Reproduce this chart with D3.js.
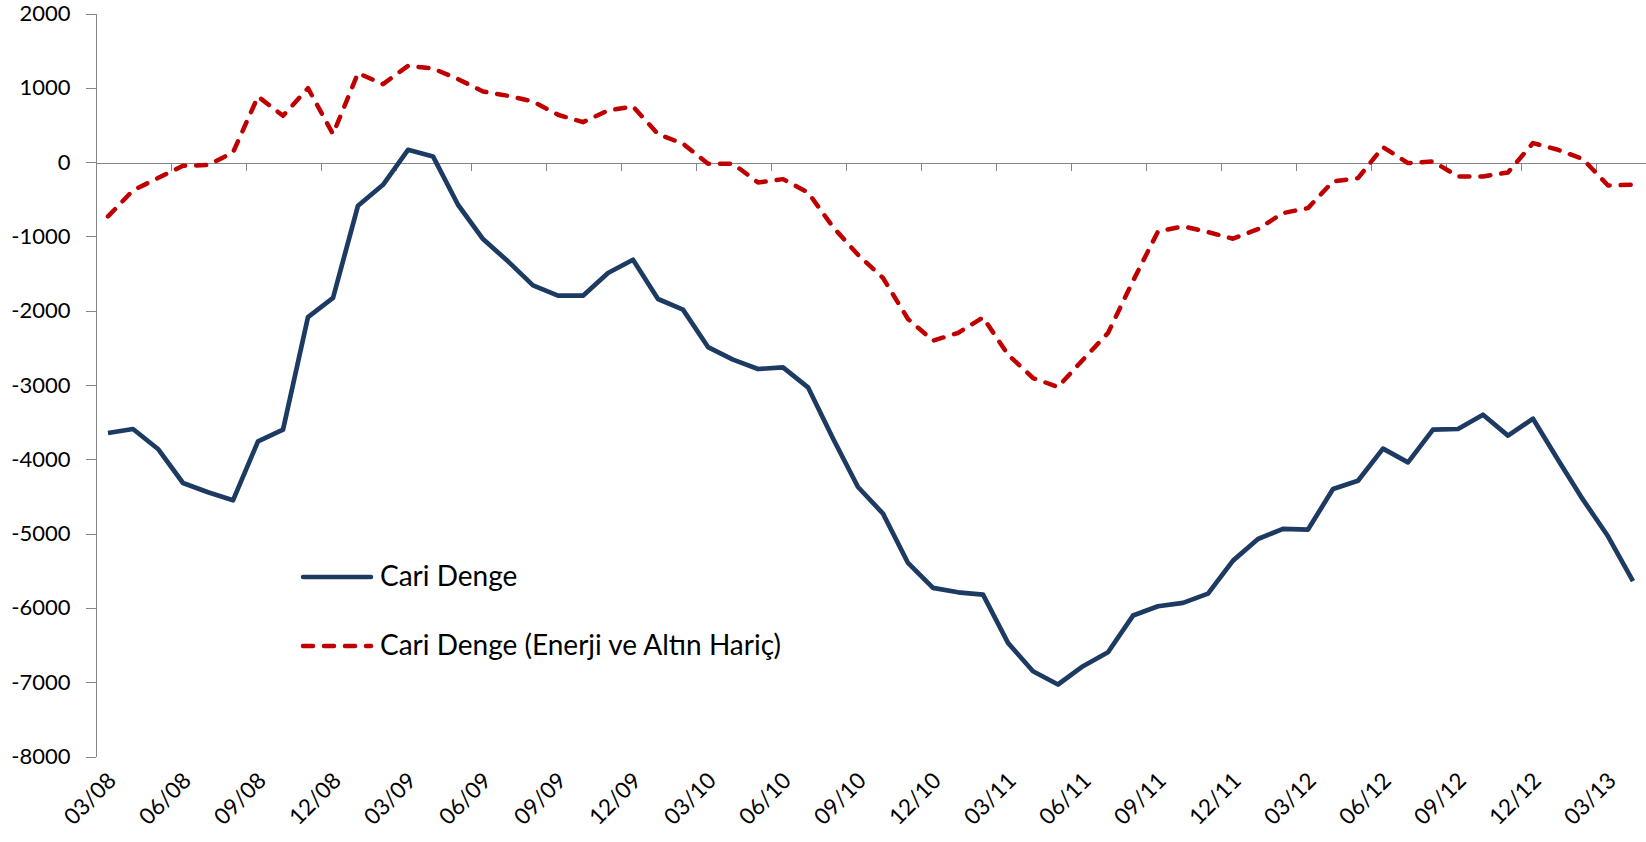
<!DOCTYPE html>
<html>
<head>
<meta charset="utf-8">
<script src="https://cdn.jsdelivr.net/npm/d3@7"></script>
<style>
    body { margin: 0; background: #fff; }
    svg { display: block; font-family: Lato, "Open Sans", sans-serif; }
    .axis path, .axis line { stroke: #868686; shape-rendering: crispEdges; }
    .axis text { fill: #000; font-size: 22px; font-family: Lato, sans-serif; }
    .month-label { font-size: 22.5px; fill: #000; }
    .legend-label { font-size: 28px; fill: #000; }
</style>
</head>
<body>
<svg id="chart-svg" width="1646" height="842"></svg>
<script>
// months, 03/08 .. 04/13
const months = [
    "03/08", "04/08", "05/08", "06/08", "07/08", "08/08", "09/08", "10/08", "11/08", "12/08",
    "01/09", "02/09", "03/09", "04/09", "05/09", "06/09", "07/09", "08/09", "09/09", "10/09", "11/09", "12/09",
    "01/10", "02/10", "03/10", "04/10", "05/10", "06/10", "07/10", "08/10", "09/10", "10/10", "11/10", "12/10",
    "01/11", "02/11", "03/11", "04/11", "05/11", "06/11", "07/11", "08/11", "09/11", "10/11", "11/11", "12/11",
    "01/12", "02/12", "03/12", "04/12", "05/12", "06/12", "07/12", "08/12", "09/12", "10/12", "11/12", "12/12",
    "01/13", "02/13", "03/13", "04/13"
];

// Cari Denge
const cariDenge = [
    -3646, -3592, -3861, -4319, -4444, -4552, -3758, -3601, -2085, -1829,
    -587, -305, 166, 76, -574, -1036, -1336, -1659, -1798, -1798, -1493, -1314,
    -1843, -1986, -2489, -2659, -2785, -2762, -3031, -3720, -4373, -4731, -5395, -5731,
    -5790, -5821, -6471, -6852, -7031, -6785, -6597, -6103, -5978, -5933, -5808, -5364,
    -5072, -4937, -4946, -4400, -4288, -3857, -4041, -3601, -3592, -3400, -3682, -3453,
    -4005, -4543, -5036, -5641
];

// Cari Denge (Enerji ve Altın Hariç)
const cariDengeHaric = [
    -731, -381, -215, -49, -40, 130, 883, 623, 995, 377,
    1197, 1049, 1296, 1260, 1117, 951, 892, 816, 637, 538, 695, 749,
    377, 247, -22, -22, -274, -229, -408, -874, -1247, -1560, -2112, -2403,
    -2300, -2090, -2592, -2906, -3027, -2659, -2300, -1600, -933, -865, -942, -1031,
    -901, -686, -619, -260, -215, 202, -13, 9, -193, -193, -139, 256,
    166, 40, -314, -305
];

const seriesNames = ["Cari Denge", "Cari Denge (Enerji ve Altın Hariç)"];
const yTicks = [-8000, -7000, -6000, -5000, -4000, -3000, -2000, -1000, 0, 1000, 2000];
const labelEvery = 3;

class LineChart
{
    constructor()
    {
        this.left = 95.5;
        this.right = 1645.5;
        this.top = 13.5;
        this.bottom = 756.5;

        this.x = d3.scaleBand().domain(months).range([this.left, this.right]).padding(0);
        // index based scale for excel-style boundary ticks
        this.xIndex = d3.scaleLinear().domain([0, months.length]).range([this.left, this.right]);
        this.y = d3.scaleLinear().domain([-8000, 2000]).range([this.bottom, this.top]);

        this.svg = d3.select("#chart-svg");
    }

    drawAxes()
    {
        // plain hyphen for negatives, like the source
        const yAxis = d3.axisLeft(this.y)
            .tickValues(yTicks)
            .tickSize(10)
            .tickSizeOuter(0)
            .tickPadding(15)
            .tickFormat(d => String(d));

        this.svg.append("g")
            .attr("class", "axis y-axis")
            .attr("transform", `translate(${this.left},0)`)
            .call(yAxis);

        const zeroY = Math.round(this.y(0)) + 0.5;

        const xAxis = d3.axisBottom(this.xIndex)
            .tickValues(d3.range(0, months.length - 1, labelEvery))
            .tickSize(8)
            .tickSizeOuter(0)
            .tickFormat("");

        this.svg.append("g")
            .attr("class", "axis x-axis")
            .attr("transform", `translate(0,${zeroY})`)
            .call(xAxis);

        // month labels sit under the plot, rotated
        const labelled = months.filter((m, i) => i % labelEvery === 0);

        this.svg.append("g")
            .selectAll("text")
            .data(labelled)
            .join("text")
            .attr("class", "month-label")
            .attr("text-anchor", "end")
            .attr("transform", d => {
                const cx = this.x(d) + this.x.bandwidth() / 2 + 4;
                return `translate(${cx},${this.bottom + 20}) rotate(-45)`;
            })
            .attr("dy", "0.35em")
            .text(d => d);
    }

    drawLines()
    {
        const line = d3.line()
            .x((d, i) => this.x(months[i]) + this.x.bandwidth() / 2)
            .y(d => this.y(d));

        this.svg.append("path")
            .datum(cariDengeHaric)
            .attr("fill", "none")
            .attr("stroke", "#c00000")
            .attr("stroke-width", 4.5)
            .attr("stroke-linecap", "round")
            .attr("stroke-linejoin", "round")
            .attr("stroke-dasharray", "10,11")
            .attr("d", line);

        this.svg.append("path")
            .datum(cariDenge)
            .attr("fill", "none")
            .attr("stroke", "#1c3a62")
            .attr("stroke-width", 4.7)
            .attr("stroke-linejoin", "round")
            .attr("d", line);
    }

    drawLegend()
    {
        const styles = [
            {color: "#1c3a62", dash: null, y: 577},
            {color: "#c00000", dash: "10,11", y: 646}
        ];

        const legend = this.svg.append("g").attr("class", "legend");

        const rows = legend.selectAll("g")
            .data(seriesNames)
            .join("g")
            .attr("transform", (d, i) => `translate(0,${styles[i].y})`);

        rows.append("line")
            .attr("x1", 303)
            .attr("x2", 371)
            .attr("stroke", (d, i) => styles[i].color)
            .attr("stroke-width", 4.5)
            .attr("stroke-linecap", "round")
            .attr("stroke-dasharray", (d, i) => styles[i].dash);

        rows.append("text")
            .attr("class", "legend-label")
            .attr("x", 380)
            .attr("dy", "0.33em")
            .text(d => d);
    }
}

const chart = new LineChart();
chart.drawAxes();
chart.drawLines();
chart.drawLegend();
</script>
</body>
</html>
